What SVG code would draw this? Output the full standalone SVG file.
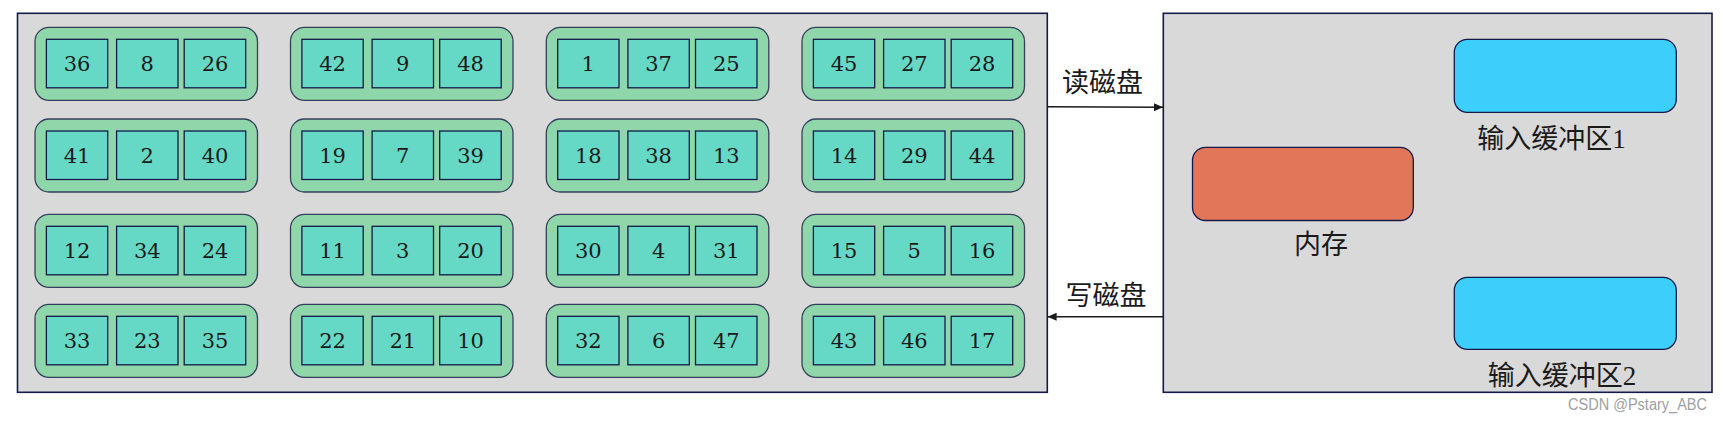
<svg xmlns="http://www.w3.org/2000/svg" width="1723" height="422" viewBox="0 0 1723 422">
<defs>
<style>
.panel{fill:#D9D9D9;stroke:#141A48;stroke-width:1.6}
.run{fill:#8FD6AA;stroke:#34405A;stroke-width:1.3}
.cell{fill:#66D9C6;stroke:#141A48;stroke-width:1.3}
.num{font-family:"DejaVu Serif","Liberation Serif",serif;font-size:21px;fill:#1A1A1A;text-anchor:middle}
.cjk{font-family:"Liberation Serif","Noto Sans CJK SC",serif;font-size:27px;fill:#1A1A1A;text-anchor:middle}
.buf{fill:#3CCFFB;stroke:#141A48;stroke-width:1.3}
.mem{fill:#E27658;stroke:#141A48;stroke-width:1.3}
.conn{stroke:#1A1A1A;stroke-width:1.4;fill:none}
.wm{font-family:"Liberation Sans",Arial,sans-serif;font-size:16px;fill:#A0A0A0}
</style>
<marker id="arr" markerWidth="10" markerHeight="8" refX="9" refY="4" orient="auto" markerUnits="userSpaceOnUse">
<path d="M0,0 L9,4 L0,8 Z" fill="#1A1A1A"/>
</marker>
<g id="runShape">
<rect class="run" x="0" y="0" width="222.5" height="73" rx="14"/>
<rect class="cell" x="11.4" y="12" width="61.3" height="48.5"/>
<rect class="cell" x="81.6" y="12" width="61.4" height="48.5"/>
<rect class="cell" x="149.2" y="12" width="61.5" height="48.5"/>
</g>
</defs>
<rect width="1723" height="422" fill="#FFFFFF"/>

<g id="disk">
<rect class="panel" x="17.5" y="13.3" width="1029.8" height="379"/>
</g>

<g id="run-1-1" transform="translate(35,27.3)"><use href="#runShape"/><text class="num" x="42" y="44">36</text><text class="num" x="112.3" y="44">8</text><text class="num" x="180" y="44">26</text></g>
<g id="run-1-2" transform="translate(290.5,27.3)"><use href="#runShape"/><text class="num" x="42" y="44">42</text><text class="num" x="112.3" y="44">9</text><text class="num" x="180" y="44">48</text></g>
<g id="run-1-3" transform="translate(546.3,27.3)"><use href="#runShape"/><text class="num" x="42" y="44">1</text><text class="num" x="112.3" y="44">37</text><text class="num" x="180" y="44">25</text></g>
<g id="run-1-4" transform="translate(802,27.3)"><use href="#runShape"/><text class="num" x="42" y="44">45</text><text class="num" x="112.3" y="44">27</text><text class="num" x="180" y="44">28</text></g>

<g id="run-2-1" transform="translate(35,119)"><use href="#runShape"/><text class="num" x="42" y="44">41</text><text class="num" x="112.3" y="44">2</text><text class="num" x="180" y="44">40</text></g>
<g id="run-2-2" transform="translate(290.5,119)"><use href="#runShape"/><text class="num" x="42" y="44">19</text><text class="num" x="112.3" y="44">7</text><text class="num" x="180" y="44">39</text></g>
<g id="run-2-3" transform="translate(546.3,119)"><use href="#runShape"/><text class="num" x="42" y="44">18</text><text class="num" x="112.3" y="44">38</text><text class="num" x="180" y="44">13</text></g>
<g id="run-2-4" transform="translate(802,119)"><use href="#runShape"/><text class="num" x="42" y="44">14</text><text class="num" x="112.3" y="44">29</text><text class="num" x="180" y="44">44</text></g>

<g id="run-3-1" transform="translate(35,214.3)"><use href="#runShape"/><text class="num" x="42" y="44">12</text><text class="num" x="112.3" y="44">34</text><text class="num" x="180" y="44">24</text></g>
<g id="run-3-2" transform="translate(290.5,214.3)"><use href="#runShape"/><text class="num" x="42" y="44">11</text><text class="num" x="112.3" y="44">3</text><text class="num" x="180" y="44">20</text></g>
<g id="run-3-3" transform="translate(546.3,214.3)"><use href="#runShape"/><text class="num" x="42" y="44">30</text><text class="num" x="112.3" y="44">4</text><text class="num" x="180" y="44">31</text></g>
<g id="run-3-4" transform="translate(802,214.3)"><use href="#runShape"/><text class="num" x="42" y="44">15</text><text class="num" x="112.3" y="44">5</text><text class="num" x="180" y="44">16</text></g>

<g id="run-4-1" transform="translate(35,304.3)"><use href="#runShape"/><text class="num" x="42" y="44">33</text><text class="num" x="112.3" y="44">23</text><text class="num" x="180" y="44">35</text></g>
<g id="run-4-2" transform="translate(290.5,304.3)"><use href="#runShape"/><text class="num" x="42" y="44">22</text><text class="num" x="112.3" y="44">21</text><text class="num" x="180" y="44">10</text></g>
<g id="run-4-3" transform="translate(546.3,304.3)"><use href="#runShape"/><text class="num" x="42" y="44">32</text><text class="num" x="112.3" y="44">6</text><text class="num" x="180" y="44">47</text></g>
<g id="run-4-4" transform="translate(802,304.3)"><use href="#runShape"/><text class="num" x="42" y="44">43</text><text class="num" x="112.3" y="44">46</text><text class="num" x="180" y="44">17</text></g>

<g id="ram">
<rect class="panel" x="1163.3" y="13.3" width="548.7" height="379"/>
</g>
<g id="memory">
<rect class="mem" x="1192.5" y="147.3" width="220.8" height="73.2" rx="13"/>
<text class="cjk" x="1321" y="254">内存</text>
</g>
<g id="buffer1">
<rect class="buf" x="1454.3" y="39.3" width="222" height="73" rx="13"/>
<text class="cjk" x="1551.5" y="148">输入缓冲区1</text>
</g>
<g id="buffer2">
<rect class="buf" x="1454.3" y="277.3" width="222" height="72" rx="13"/>
<text class="cjk" x="1562" y="385">输入缓冲区2</text>
</g>

<g id="connectors">
<line class="conn" x1="1047.3" y1="106.7" x2="1163" y2="107.3" marker-end="url(#arr)"/>
<text class="cjk" x="1102.5" y="91.5">读磁盘</text>
<line class="conn" x1="1163.3" y1="316.7" x2="1047.6" y2="316.7" marker-end="url(#arr)"/>
<text class="cjk" x="1106" y="305">写磁盘</text>
</g>

<text class="wm" x="1568" y="410" textLength="139" lengthAdjust="spacingAndGlyphs">CSDN @Pstary_ABC</text>
</svg>
